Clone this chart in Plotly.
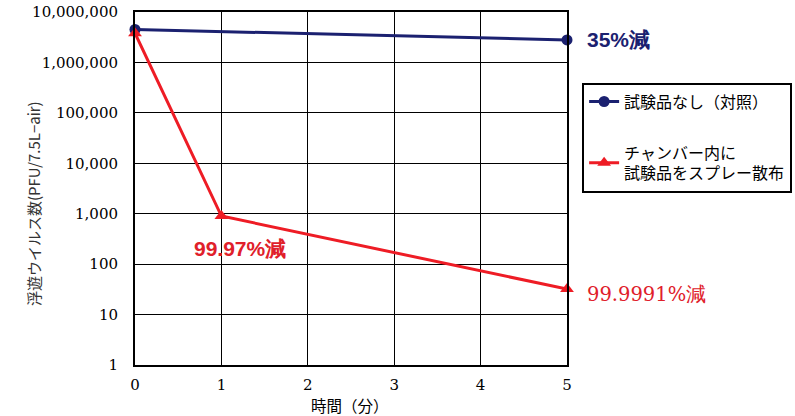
import plotly.graph_objects as go

time_control = [0, 5]
control_values = [4500000, 2800000]
time_spray = [0, 1, 5]
spray_values = [3800000, 900, 32]
y_tick_vals = [1, 10, 100, 1000, 10000, 100000, 1000000, 10000000]
y_tick_text = ["1", "10", "100", "1,000", "10,000", "100,000", "1,000,000", "10,000,000"]
x_tick_vals = [0, 1, 2, 3, 4, 5]

NAVY = "#1b2170"
RED = "#ee1c25"
JP = "Noto Sans CJK JP"
SERIF = "DejaVu Serif"

fig = go.Figure()
fig.add_trace(go.Scatter(
    x=time_control, y=control_values, mode="lines+markers",
    name="試験品なし（対照）", legendgroup="a",
    line=dict(color=NAVY, width=3), marker=dict(symbol="circle", size=11, color=NAVY),
    cliponaxis=False))
fig.add_trace(go.Scatter(
    x=time_spray, y=spray_values, mode="lines+markers",
    name="チャンバー内に<br>試験品をスプレー散布", legendgroup="b",
    line=dict(color=RED, width=3), marker=dict(symbol="triangle-up", size=12, color=RED),
    cliponaxis=False))

fig.update_layout(
    width=795, height=416,
    margin=dict(l=135, r=228, t=12, b=51, autoexpand=False),
    paper_bgcolor="white", plot_bgcolor="white",
    showlegend=True,
    legend=dict(x=1.035, y=0.80, xanchor="left", yanchor="top",
                bordercolor="black", borderwidth=2,
                font=dict(family=JP, size=16, color="black"),
                tracegroupgap=27, itemwidth=30),
    xaxis=dict(range=[0, 5], tickvals=x_tick_vals, showgrid=True, gridcolor="black", gridwidth=1.2,
               showline=True, linecolor="black", linewidth=2, mirror=True, zeroline=False,
               automargin=False, ticks="", ticklabelstandoff=5, ticklabeloverflow="allow",
               tickfont=dict(family=SERIF, size=15, color="black")),
    yaxis=dict(type="log", range=[0, 7], tickvals=y_tick_vals, ticktext=y_tick_text,
               showgrid=True, gridcolor="black", gridwidth=1.2,
               showline=True, linecolor="black", linewidth=2, mirror=True, zeroline=False,
               automargin=False, ticks="", ticklabelstandoff=12, ticklabeloverflow="allow",
               tickfont=dict(family=SERIF, size=15, color="black")),
    annotations=[
        dict(text="浮遊ウイルス数(PFU/7.5L−air)", xref="paper", yref="paper",
             x=-0.236, y=0.456, xanchor="center", yanchor="middle", textangle=-90, showarrow=False,
             font=dict(family=JP, size=15, color="#333")),
        dict(text="時間（分）", xref="paper", yref="paper", x=0.497, y=-0.112,
             xanchor="center", yanchor="middle", showarrow=False,
             font=dict(family=JP, size=15.5, color="black")),
        dict(text="<b>35%減</b>", x=5, y=6.45, xref="x", yref="y", xanchor="left",
             xshift=18, showarrow=False, font=dict(family="Liberation Sans", size=21, color=NAVY)),
        dict(text="<b>99.97%減</b>", x=1.22, y=2.32, xref="x", yref="y", xanchor="center",
             showarrow=False, font=dict(family="Liberation Sans", size=21, color="#e0202a")),
        dict(text="99.9991%減", x=5, y=1.4, xref="x", yref="y", xanchor="left",
             xshift=18, showarrow=False, font=dict(family=SERIF, size=19.5, color="#e0202a")),
    ],
)

fig.write_html("out.html", config={"displayModeBar": False},
               post_script="document.body.style.margin='0px';")
